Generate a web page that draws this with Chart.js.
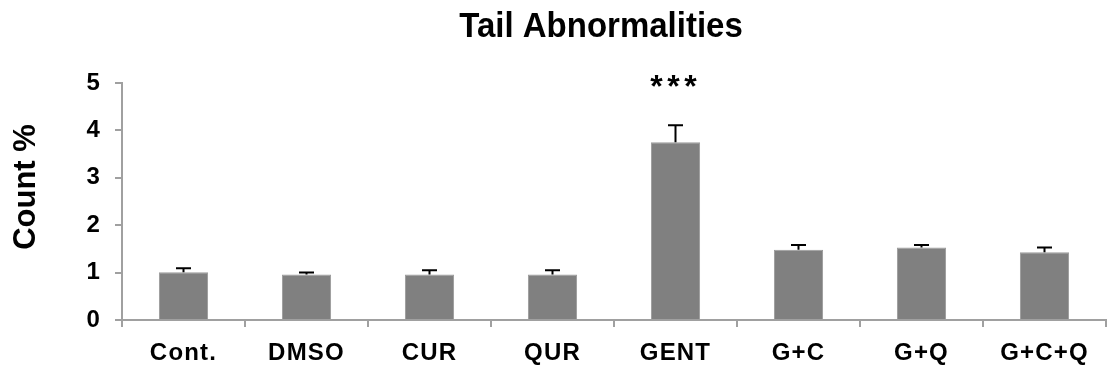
<!DOCTYPE html>
<html>
<head>
<meta charset="utf-8">
<script src="https://cdn.jsdelivr.net/npm/chart.js@4.4.1/dist/chart.umd.min.js"></script>
<style>
  html, body { margin: 0; padding: 0; background: #fff; }
  #wrap { width: 1108px; height: 371px; position: relative; }
</style>
</head>
<body>
<div id="wrap"><canvas id="c"></canvas></div>
<script>
// Groups and measured tail abnormality counts (%) with SEM
const groups = ['Cont.', 'DMSO', 'CUR', 'QUR', 'GENT', 'G+C', 'G+Q', 'G+C+Q'];
const means = [1.01, 0.96, 0.96, 0.96, 3.75, 1.48, 1.53, 1.43];
const sems = [0.08, 0.04, 0.09, 0.09, 0.36, 0.10, 0.05, 0.10];
const yTicks = [0, 1, 2, 3, 4, 5];
const chartTitle = 'Tail Abnormalities';
const yAxisLabel = 'Count %';
const significance = ['', '', '', '', '***', '', '', ''];

const FONT = '"Liberation Sans", Arial, sans-serif';
const AXIS_GREY = '#a0a0a0';

// Slightly tracked-out lettering for the axis tick labels
const trackingPlugin = {
  id: 'tracking',
  beforeDraw(chart) { chart.ctx.letterSpacing = '1.2px'; },
  beforeDatasetsDraw(chart) { chart.ctx.letterSpacing = '0px'; }
};

// Error bars (upper whisker only) and significance marks
const errorBarPlugin = {
  id: 'errorBars',
  afterDatasetsDraw(chart) {
    const ctx = chart.ctx;
    const x = chart.scales.x, y = chart.scales.y;
    ctx.save();
    ctx.strokeStyle = '#000';
    ctx.lineWidth = 2;
    means.forEach((m, i) => {
      const cx = x.getPixelForValue(i);
      const y0 = y.getPixelForValue(m);
      const y1 = y.getPixelForValue(m + sems[i]);
      ctx.beginPath();
      ctx.moveTo(cx, y0);
      ctx.lineTo(cx, y1);
      ctx.moveTo(cx - 7.5, y1);
      ctx.lineTo(cx + 7.5, y1);
      ctx.stroke();
      if (significance[i]) {
        ctx.fillStyle = '#000';
        ctx.font = 'bold 32px ' + FONT;
        ctx.textAlign = 'center';
        ctx.textBaseline = 'middle';
        const sy = y.getPixelForValue(m + sems[i] + 0.85);
        const chars = significance[i].split('');
        chars.forEach((ch, k) => {
          ctx.fillText(ch, cx - 2 + (k - (chars.length - 1) / 2) * 17, sy + 3);
        });
      }
    });
    ctx.restore();
  }
};

// Chart title and rotated y-axis caption
const captionPlugin = {
  id: 'captions',
  afterDraw(chart) {
    const ctx = chart.ctx;
    ctx.save();
    ctx.fillStyle = '#000';
    ctx.font = 'bold 33px ' + FONT;
    ctx.textAlign = 'center';
    ctx.textBaseline = 'alphabetic';
    ctx.save();
    ctx.translate(601, 37);
    ctx.scale(1, 1.08);
    ctx.fillText(chartTitle, 0, 0);
    ctx.restore();
    ctx.translate(26, 187);
    ctx.rotate(-Math.PI / 2);
    ctx.font = 'bold 31px ' + FONT;
    ctx.textBaseline = 'middle';
    ctx.fillText(yAxisLabel, 0, 0);
    ctx.restore();
  }
};

new Chart(document.getElementById('c'), {
  type: 'bar',
  data: {
    labels: groups,
    datasets: [{
      data: means,
      backgroundColor: '#808080',
      borderColor: '#9a9a9a',
      borderWidth: 1,
      barPercentage: 0.4,
      categoryPercentage: 1.0
    }]
  },
  options: {
    responsive: true,
    maintainAspectRatio: false,
    animation: false,
    layout: { padding: { top: 83, right: 2, left: 0, bottom: 0 } },
    plugins: {
      legend: { display: false },
      title: { display: false },
      tooltip: { enabled: false }
    },
    scales: {
      x: {
        offset: true,
        border: { color: AXIS_GREY, width: 2 },
        grid: {
          offset: true,
          drawOnChartArea: false,
          drawTicks: true,
          tickLength: 7,
          color: AXIS_GREY,
          lineWidth: 2
        },
        ticks: {
          color: '#000',
          font: { family: FONT, size: 24, weight: 'bold' },
          padding: 12,
          maxRotation: 0,
          autoSkip: false
        },
        afterFit(s) { s.height = 51; }
      },
      y: {
        min: 0,
        max: 5,
        afterBuildTicks(s) { s.ticks = yTicks.map(v => ({ value: v })); },
        border: { color: AXIS_GREY, width: 2 },
        grid: {
          drawOnChartArea: false,
          drawTicks: true,
          tickLength: 7,
          color: AXIS_GREY,
          lineWidth: 2
        },
        ticks: {
          color: '#000',
          font: { family: FONT, size: 24, weight: 'bold' },
          padding: 14
        },
        afterFit(s) { s.width = 122; }
      }
    }
  },
  plugins: [trackingPlugin, errorBarPlugin, captionPlugin]
});
</script>
</body>
</html>
